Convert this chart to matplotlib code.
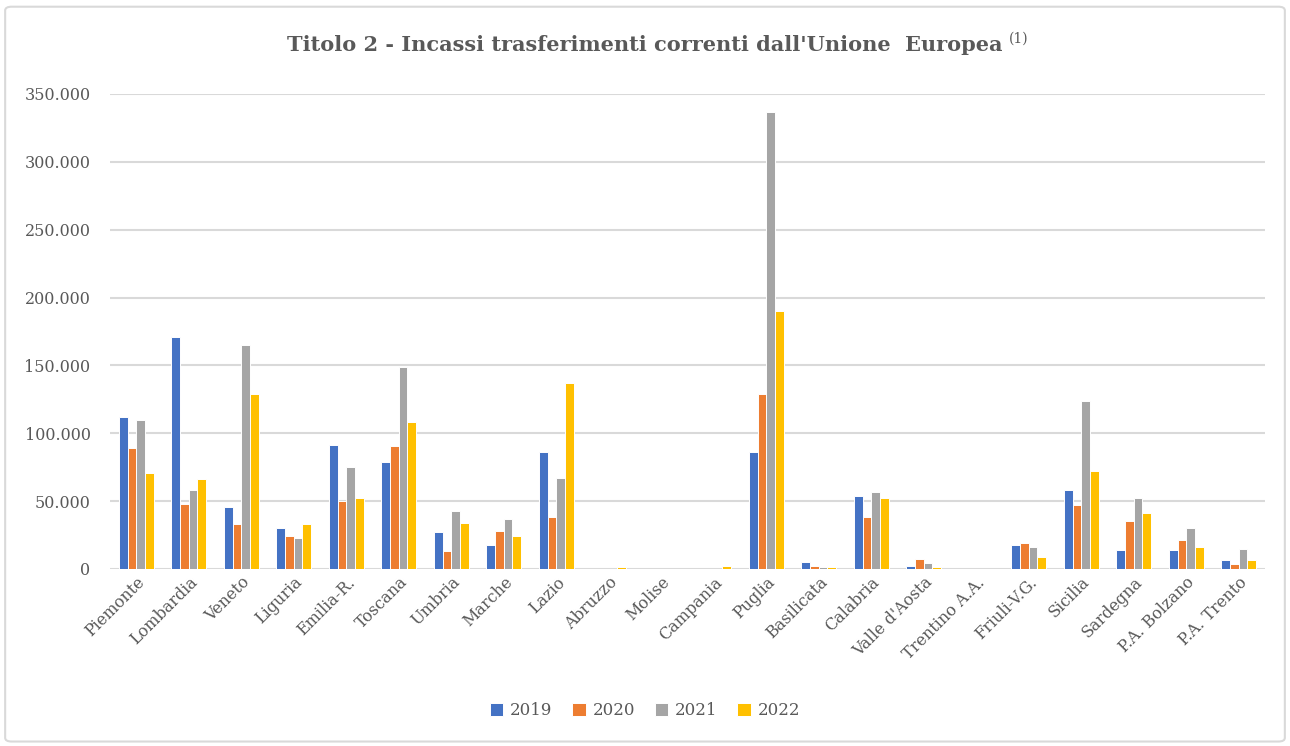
import numpy as np
import matplotlib.pyplot as plt
from matplotlib.patches import FancyBboxPatch
from matplotlib.ticker import FuncFormatter

regions = ['Piemonte', 'Lombardia', 'Veneto', 'Liguria', 'Emilia-R.', 'Toscana',
           'Umbria', 'Marche', 'Lazio', 'Abruzzo', 'Molise', 'Campania', 'Puglia',
           'Basilicata', 'Calabria', "Valle d'Aosta", 'Trentino A.A.', 'Friuli-V.G.',
           'Sicilia', 'Sardegna', 'P.A. Bolzano', 'P.A. Trento']
years = ['2019', '2020', '2021', '2022']

v2019 = [112000, 171000, 46000, 30000, 91500, 79000, 27000, 18000, 86000, 0, 0, 0,
         86000, 5500, 54000, 2200, 0, 18000, 58500, 14000, 14000, 6600]
v2020 = [89500, 48000, 33500, 24000, 50000, 90500, 13000, 28000, 38500, 0, 0, 0,
         129000, 2500, 38000, 7400, 0, 19500, 47000, 35000, 21000, 3900]
v2021 = [110000, 58500, 165000, 22500, 75500, 148500, 42500, 37000, 67000, 0, 0, 0,
         337000, 1500, 56500, 4400, 0, 16500, 123500, 52000, 30000, 15000]
v2022 = [70500, 66000, 129000, 33500, 52000, 108500, 34000, 24000, 137000, 1200, 0, 2200,
         190000, 1200, 52500, 1200, 0, 9000, 72000, 41500, 16000, 6600]

colors = ['#4472C4', '#ED7D31', '#A5A5A5', '#FFC000']
txt = '#595959'
plt.rcParams['font.family'] = ['DejaVu Serif']

fig = plt.figure(figsize=(12.9, 7.46), dpi=100)
ax = fig.add_axes([0.0853, 0.2373, 0.8953, 0.6367])

x = np.arange(len(regions))
w = 0.165
series = [v2019, v2020, v2021, v2022]
for i, (vals, c, y) in enumerate(zip(series, colors, years)):
    ax.bar(x + (i - 1.5) * w, vals, w, color=c, edgecolor='white', linewidth=0.7,
           label=y, zorder=3)

ax.set_xlim(-0.5, len(regions) - 0.5)
ax.set_ylim(0, 350000)
ax.set_yticks(np.arange(0, 350001, 50000))
ax.yaxis.set_major_formatter(FuncFormatter(lambda v, p: f'{int(v):,}'.replace(',', '.')))
ax.grid(axis='y', color='#D9D9D9', linewidth=1.5, zorder=0)
for s in ax.spines.values():
    s.set_visible(False)
ax.tick_params(axis='both', length=0, colors=txt, labelsize=11.5)
ax.tick_params(axis='y', pad=14)
ax.set_xticks(x)
ax.set_xticklabels(regions, rotation=45, ha='right', rotation_mode='anchor')

fig.text(0.5, 0.94, "Titolo 2 - Incassi trasferimenti correnti dall'Unione  Europea",
         ha='center', va='center', fontsize=15, color=txt, fontweight='bold')
fig.text(0.782, 0.948, '(1)', ha='left', va='center', fontsize=10, color=txt)

leg = fig.legend(loc='center', bbox_to_anchor=(0.5, 0.047), ncol=4, frameon=False,
                 fontsize=12, handlelength=0.8, handleheight=0.8, columnspacing=1.2,
                 handletextpad=0.4)
for t in leg.get_texts():
    t.set_color(txt)

border = FancyBboxPatch((0.004, 0.006), 0.992, 0.985, boxstyle='round,pad=0,rounding_size=0.005',
                        transform=fig.transFigure, fill=False, edgecolor='#D9D9D9', linewidth=1.5)
fig.patches.append(border)

fig.savefig('out.png', dpi=100)
